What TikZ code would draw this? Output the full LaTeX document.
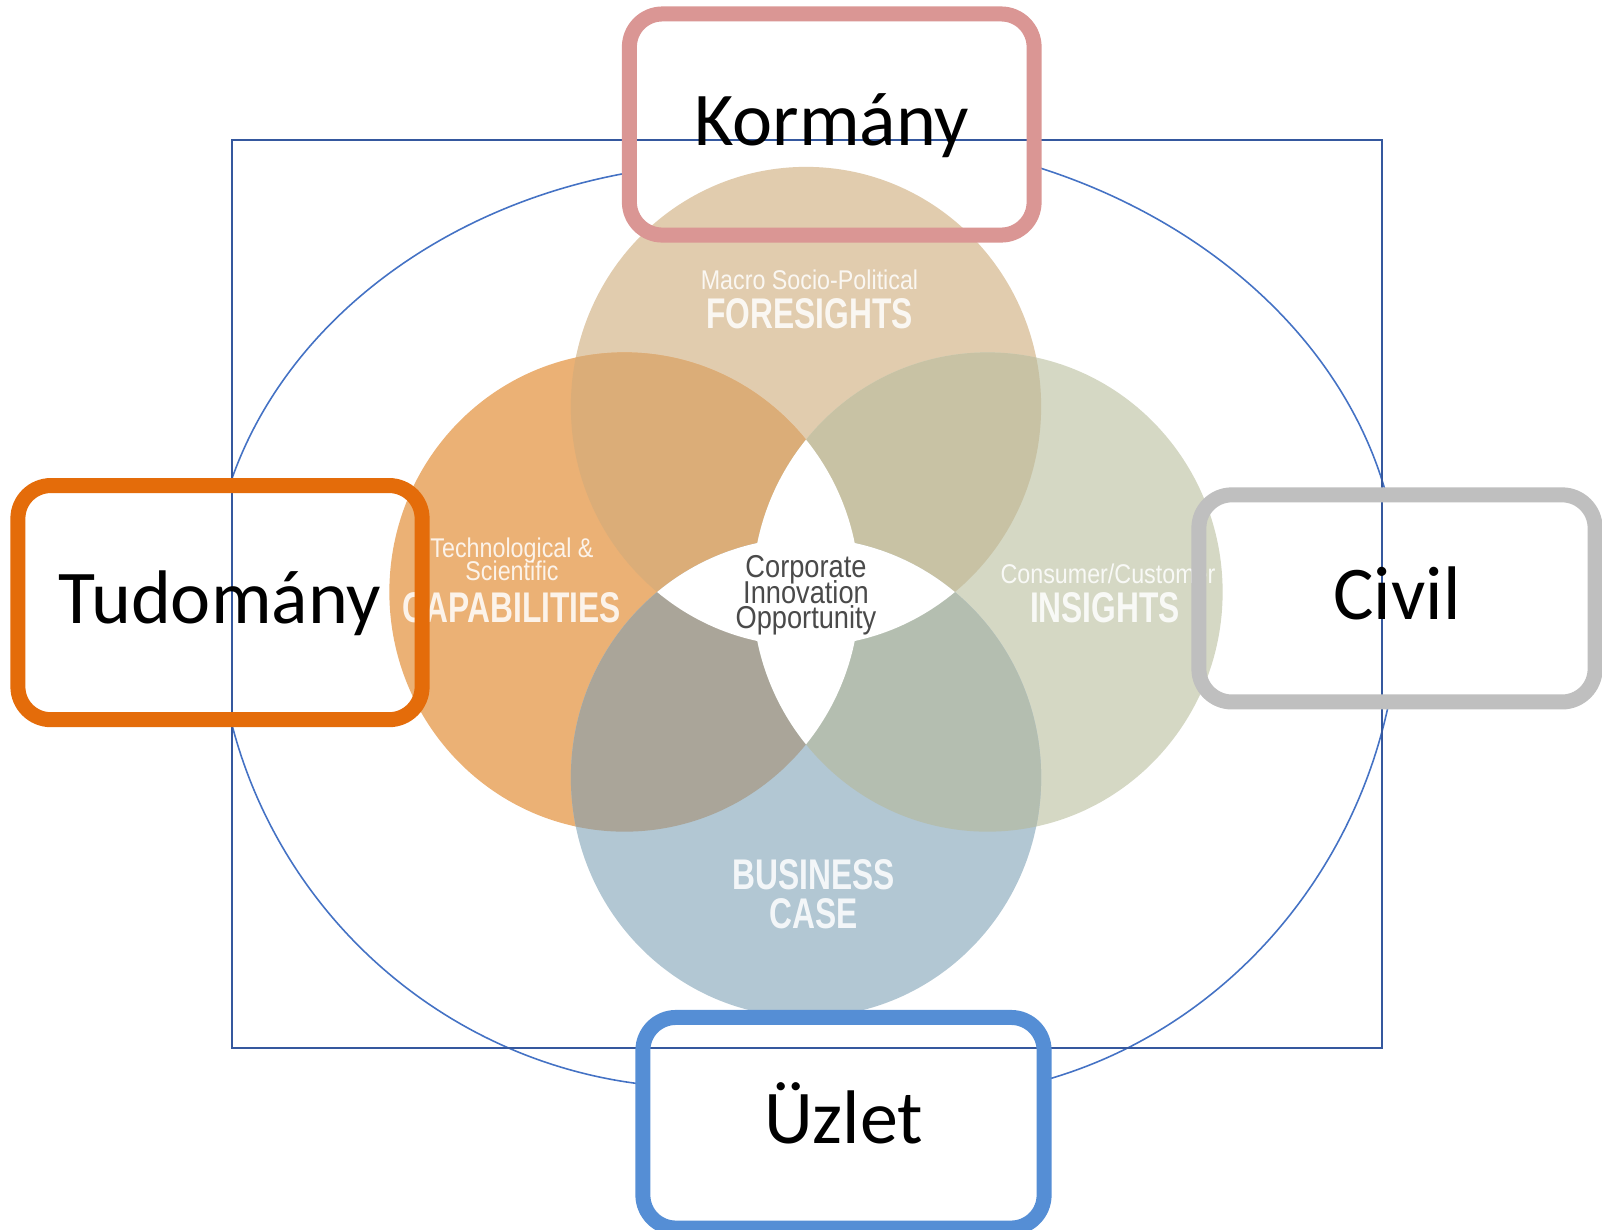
\documentclass[tikz,border=0pt]{standalone}
\usepackage{fontspec}
\setmainfont{Carlito}
\newfontfamily\condfont[FakeStretch=0.74]{Liberation Sans}
\newfontfamily\narrowfont[FakeStretch=0.86]{Liberation Sans}
\usetikzlibrary{backgrounds}
\definecolor{framecol}{HTML}{35589E}
\definecolor{ovalcol}{HTML}{4472C4}
\definecolor{kormcol}{HTML}{DA9694}
\definecolor{tudcol}{HTML}{E46C0A}
\definecolor{civcol}{HTML}{BFBFBF}
\definecolor{uzlcol}{HTML}{558ED5}
\definecolor{forecol}{HTML}{E1CCAE}
\definecolor{capcol}{HTML}{EBB175}
\definecolor{inscol}{HTML}{D5D8C4}
\definecolor{buscol}{HTML}{B2C7D3}
\definecolor{capfore}{HTML}{DBAD78}
\definecolor{foreins}{HTML}{C8C2A4}
\definecolor{capbus}{HTML}{AAA599}
\definecolor{insbus}{HTML}{B4BEB0}
\definecolor{corecol}{HTML}{4A4A4A}
\begin{document}
\begin{tikzpicture}[x=0.01cm,y=-0.01cm,
  actor/.style={draw, rounded corners=0.33cm, line width=0.15cm, outer sep=0pt, inner sep=0pt,
    text height=0.48cm, text depth=0.06cm, font=\fontsize{21.6}{26}\selectfont},
  venntitle/.style={anchor=base, inner sep=0pt, text=white, text opacity=0.85,
    font=\condfont\bfseries\fontsize{12.2}{13}\selectfont},
  vennsub/.style={anchor=base, inner sep=0pt, text=white, text opacity=0.85,
    font=\narrowfont\fontsize{7.7}{8}\selectfont},
  venncore/.style={anchor=base, inner sep=0pt, text=corecol, font=\narrowfont\fontsize{9}{9}\selectfont},
  lobe/.style={x radius=2.35cm, y radius=2.395cm}]
\useasboundingbox (0,0) rectangle (1602,1229);
\coordinate (fore) at (806,406.5);
\coordinate (cap) at (624.5,592);
\coordinate (ins) at (987.5,592);
\coordinate (bus) at (806,777.5);
\draw [framecol, line width=0.6pt] (232,140) rectangle (1382,1048);
\node [actor, draw=kormcol, minimum width=4.045cm, minimum height=2.21cm] (korm) at (831.75,124.5) {Kormány};
\node [actor, draw=tudcol, minimum width=4.04cm, minimum height=2.34cm] (tud) at (220,602.6) {Tudomány};
\node [actor, draw=civcol, minimum width=3.96cm, minimum height=2.07cm] (civ) at (1397,598.4) {Civil};
\node [actor, draw=uzlcol, minimum width=4.01cm, minimum height=2.105cm] (uzl) at (843.5,1122.75) {Üzlet};
\begin{scope}[on background layer]
\draw [ovalcol, line width=0.45pt]
  (740,163) arc[start angle=90, end angle=180, x radius=5.29cm, y radius=4.39cm]
  (1400,595) arc[start angle=0, end angle=90, x radius=5.70cm, y radius=4.59cm]
  (216.4,602) arc[start angle=180, end angle=270, x radius=4.836cm, y radius=4.853cm]
  (920,1097.3) arc[start angle=270, end angle=360, x radius=4.797cm, y radius=5.023cm];
\foreach \b in {korm,tud,civ,uzl}
  \fill [white, rounded corners=0.33cm] (\b.south west) rectangle (\b.north east);
\fill [forecol] (fore) ellipse[lobe];
\fill [capcol] (cap) ellipse[lobe];
\fill [inscol] (ins) ellipse[lobe];
\fill [buscol] (bus) ellipse[lobe];
\begin{scope}
\clip (cap) ellipse[lobe];
\fill [capfore] (fore) ellipse[lobe];
\fill [capbus] (bus) ellipse[lobe];
\end{scope}
\begin{scope}
\clip (ins) ellipse[lobe];
\fill [foreins] (fore) ellipse[lobe];
\fill [insbus] (bus) ellipse[lobe];
\end{scope}
\begin{scope}
\clip (cap) ellipse[lobe];
\fill [white] (ins) ellipse[lobe];
\end{scope}
\begin{scope}
\clip (fore) ellipse[lobe];
\fill [white] (bus) ellipse[lobe];
\end{scope}
\node [vennsub] (foretop) at (809.5,289) {Macro Socio-Political};
\node [venntitle] (forelbl) at (809.5,328) {FORESIGHTS};
\node [vennsub] (captop) at (512,557) {Technological \&};
\node [vennsub] (capmid) at (512,580) {Scientific};
\node [venntitle] (caplbl) at (512,622) {CAPABILITIES};
\node [vennsub] (instop) at (1108,583) {Consumer/Customer};
\node [venntitle] (inslbl) at (1105,622) {INSIGHTS};
\node [venntitle] (buslbl) at (813.5,889) {BUSINESS};
\node [venntitle] (buslow) at (813.5,928) {CASE};
\node [venncore] (coretop) at (806,577) {Corporate};
\node [venncore] (coremid) at (806,603) {Innovation};
\node [venncore] (corelow) at (806,628) {Opportunity};
\end{scope}
\end{tikzpicture}
\end{document}
